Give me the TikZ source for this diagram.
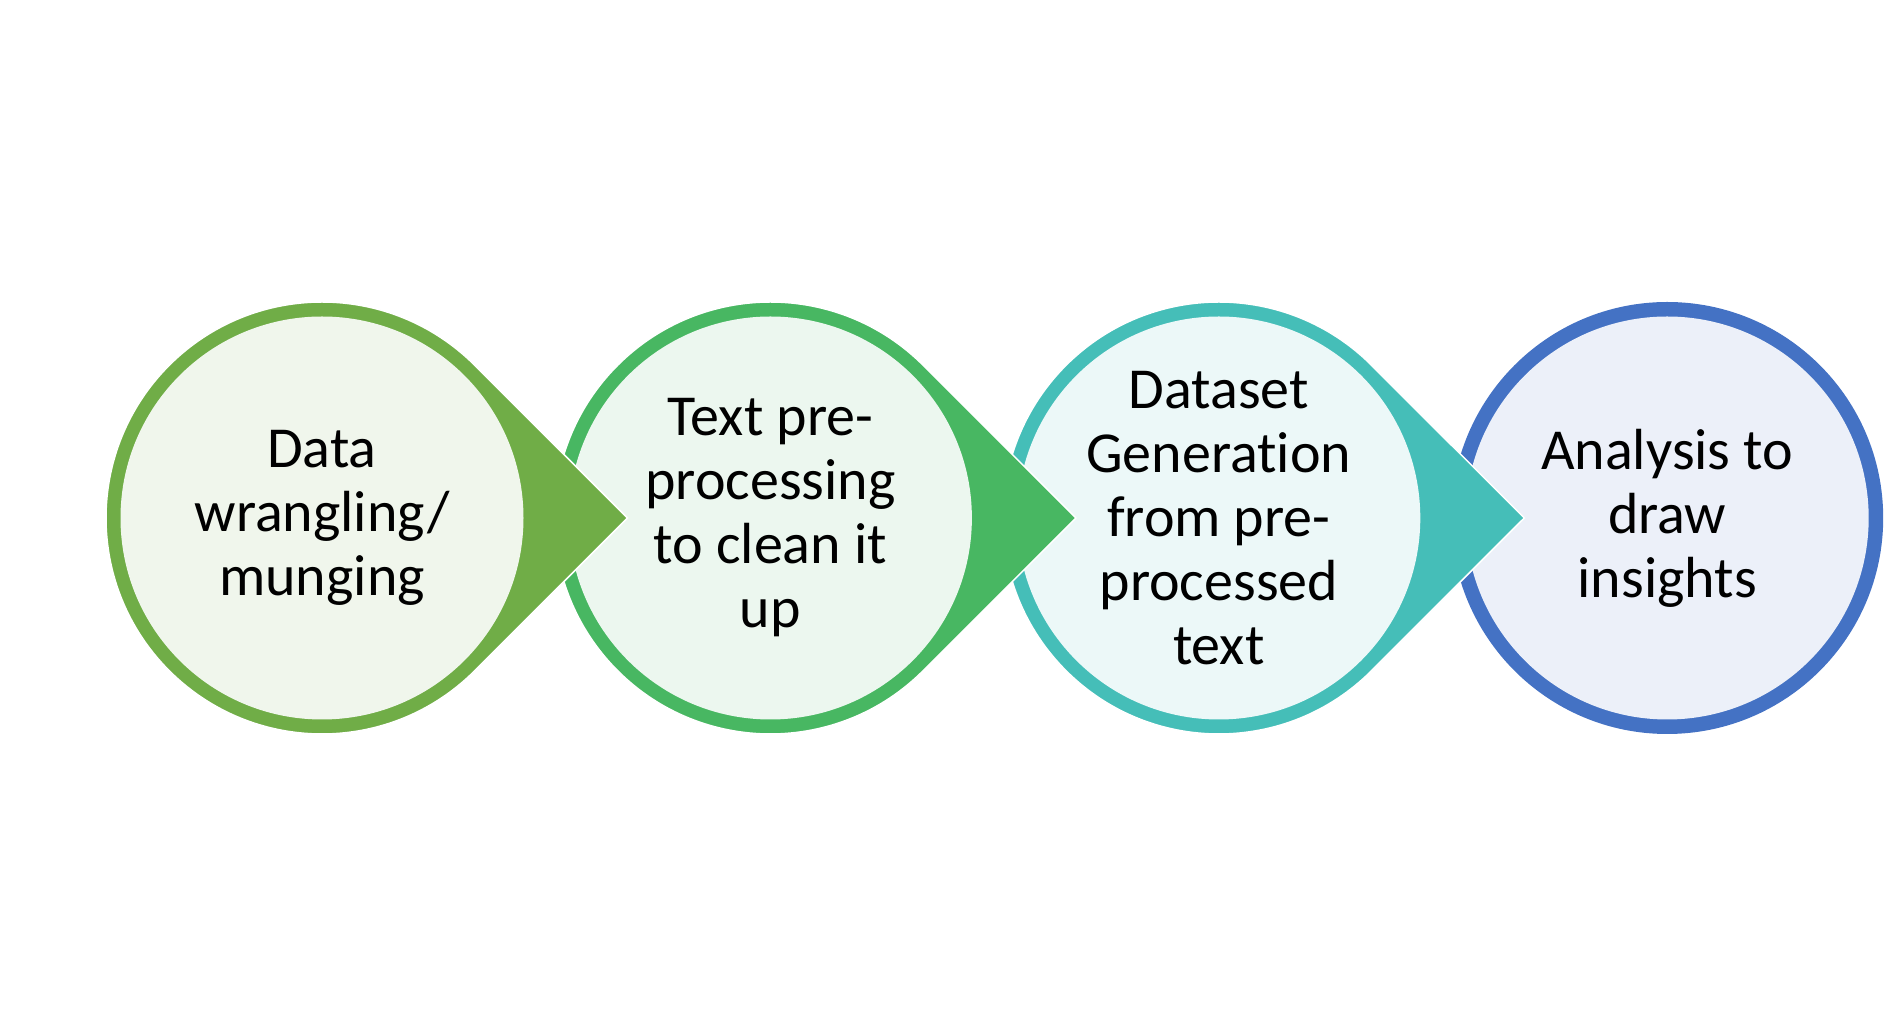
\documentclass[tikz,border=0pt]{standalone}
\usepackage{fontspec}
\setmainfont[Ligatures=NoCommon]{Carlito}
\usetikzlibrary{positioning, backgrounds}

\definecolor{ring1}{HTML}{70AD47}
\definecolor{ring2}{HTML}{48B762}
\definecolor{ring3}{HTML}{45BEB8}
\definecolor{ring4}{HTML}{4472C4}
\definecolor{fill1}{HTML}{F0F6EC}
\definecolor{fill2}{HTML}{ECF7EF}
\definecolor{fill3}{HTML}{ECF8F8}
\definecolor{fill4}{HTML}{ECF0F9}

\newcommand\stagefont{\fontsize{58pt}{64pt}\selectfont}

\begin{document}
\begin{tikzpicture}[x=1pt, y=1pt, stage/.style = {circle, minimum size=432pt, inner sep=0pt, outer sep=0pt, align=center, font=\stagefont}, node distance=448.4pt]
\useasboundingbox (0,0) rectangle (1901,1036);

%stages
\node[stage] (1) at (322,518) {Data\\wrangling/\\munging};
\node[stage] (2) [right of=1] {Text pre-\\processing\\to clean it\\up};
\node[stage] (3) [right of=2] {Dataset\\Generation\\from pre-\\processed\\text};
\node[stage] (4) [right of=3] {Analysis to\\draw\\insights};

%rings and arrows, last one first
\begin{scope}[on background layer]
\fill[ring4] (4) circle[radius=216];
\fill[fill4] (4) circle[radius=201.5];
\foreach \n in {3,2,1} {
  \filldraw[fill=ring\n, draw=white, line width=1.5pt] (\n.45) -- ([xshift=305.5pt]\n.center) -- (\n.-45) arc[start angle=-45, end angle=-315, radius=216] -- cycle;
  \fill[fill\n] (\n) circle[radius=201.5];
}
\end{scope}
\end{tikzpicture}
\end{document}
